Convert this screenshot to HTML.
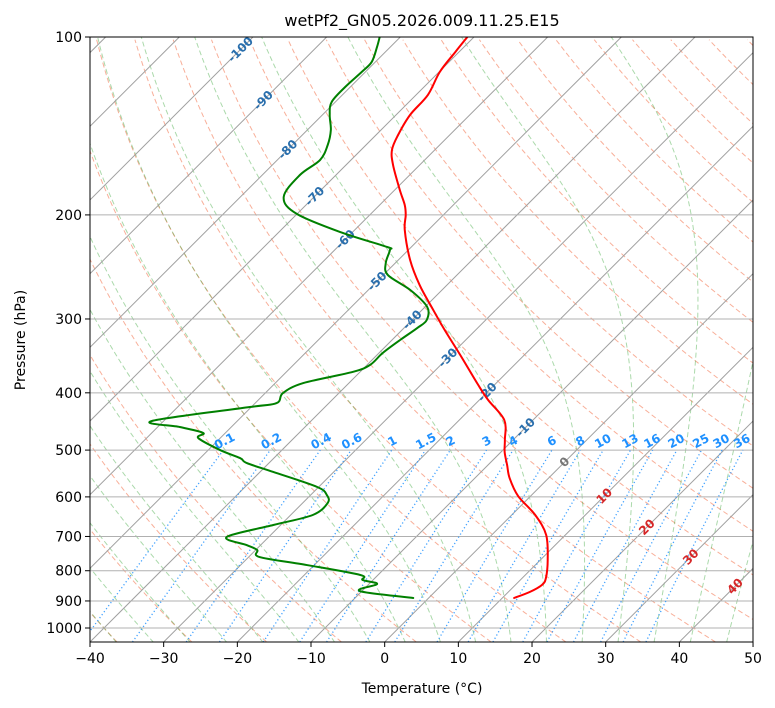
<!DOCTYPE html>
<html><head><meta charset="utf-8">
<style>
html,body{margin:0;padding:0;background:#fff;}
svg{display:block;font-family:"DejaVu Sans","Liberation Sans",sans-serif;}
</style></head>
<body>
<svg id="chart" width="775" height="708" viewBox="0 0 775 708" xmlns="http://www.w3.org/2000/svg">
<defs><clipPath id="plotclip"><rect x="90" y="37" width="663" height="605"/></clipPath></defs>
<rect x="0" y="0" width="775" height="708" fill="#fff"/>
<g id="bg" clip-path="url(#plotclip)"></g>
<g id="fg"></g>
<text x="422" y="26" text-anchor="middle" font-size="16">wetPf2_GN05.2026.009.11.25.E15</text>
<text x="422" y="693" text-anchor="middle" font-size="14">Temperature (°C)</text>
<text x="25" y="340" text-anchor="middle" font-size="14" transform="rotate(-90 25 340)">Pressure (hPa)</text>
</svg>
<script>
// ---- data ----
const tempP = [100,106.0,114.6,125.3,135.5,146.5,155.3,164.7,181.5,192.4,200.1,212.1,238.4,262.9,287.4,313.2,345.2,386.5,411.4,444.7,480.8,503.8,530.0,557.5,598.0,643.9,696.1,767.3,823.0,845.7,869.2,889.6];
const tempT = [-70.9,-70.5,-69.9,-68.4,-68.1,-67.0,-65.8,-63.6,-59.3,-56.6,-55.1,-53.2,-48.4,-43.7,-38.9,-34.2,-28.7,-22.4,-18.8,-13.9,-11.1,-9.5,-7.4,-5.3,-1.7,3.2,7.4,11.0,13.2,13.6,12.9,11.6];
const dewP = [100,104.0,110.2,114.6,121.5,128.8,135.5,143.7,152.3,161.5,171.2,186.6,199.3,214.6,226.6,229.3,241.2,252.7,268.0,286.3,301.2,310.8,325.6,342.5,358.9,368.8,385.1,400.4,416.3,422.8,446.4,457.0,467.7,477.0,499.9,515.8,525.9,544.5,577.3,595.7,614.6,643.9,669.5,701.5,723.8,737.9,758.6,782.5,813.4,829.5,842.4,865.8,889.6];
const dewT = [-82.8,-81.8,-80.5,-80.5,-80.7,-80.5,-79.0,-76.8,-75.2,-74.2,-74.9,-74.1,-70.0,-61.2,-53.3,-52.5,-51.3,-49.4,-44.3,-39.7,-38.0,-38.2,-38.9,-39.5,-39.6,-41.0,-46.2,-47.6,-47.1,-50.2,-61.6,-57.0,-53.0,-53.0,-48.4,-44.6,-43.0,-38.2,-30.2,-27.8,-26.6,-27.0,-31.0,-35.7,-31.9,-29.8,-28.5,-21.0,-12.4,-11.4,-8.9,-10.3,-2.1];
const pressureTicks = [100,200,300,400,500,600,700,800,900,1000];
const tempTicks = [-40,-30,-20,-10,0,10,20,30,40,50];
const mixRatios = [0.1,0.2,0.4,0.6,1,1.5,2,3,4,6,8,10,13,16,20,25,30,36];
const isoLabelT = [-100,-90,-80,-70,-60,-50,-40,-30,-20,-10,0,10,20,30,40];
const isoLabelP = [105,128,155,186,220,259,301,349,399,458,524,598,675,758,850];

// ---- axis functions ----
const X0=90, X1=753, Y0=37, Y1=642, PX=7.367, DEC=591;
function yP(p){return Y0+DEC*Math.log10(p/100);}
function xT(T,p){return X0+(T+40)*PX+(Y1-yP(p));}
const PBOT=Math.pow(10,2+(Y1-Y0)/DEC);
const NS='http://www.w3.org/2000/svg';
const bg=document.getElementById('bg'), fg=document.getElementById('fg');
function mk(tag,attrs,parent){const e=document.createElementNS(NS,tag);for(const k in attrs)e.setAttribute(k,attrs[k]);parent.appendChild(e);return e;}
function pathFrom(ps,ts){return ps.map((p,i)=>(i?'L':'M')+xT(ts[i],p).toFixed(2)+','+yP(p).toFixed(2)).join('');}
function smoothFrom(ps,ts){
  const pts=ps.map((p,i)=>[xT(ts[i],p),yP(p)]);
  let d='M'+pts[0][0].toFixed(2)+','+pts[0][1].toFixed(2);
  for(let i=0;i<pts.length-1;i++){
    const p0=pts[Math.max(0,i-1)],p1=pts[i],p2=pts[i+1],p3=pts[Math.min(pts.length-1,i+2)];
    const c1=[p1[0]+(p2[0]-p0[0])/6,p1[1]+(p2[1]-p0[1])/6];
    const c2=[p2[0]-(p3[0]-p1[0])/6,p2[1]-(p3[1]-p1[1])/6];
    d+='C'+c1[0].toFixed(2)+','+c1[1].toFixed(2)+' '+c2[0].toFixed(2)+','+c2[1].toFixed(2)+' '+p2[0].toFixed(2)+','+p2[1].toFixed(2);
  }
  return d;
}

// dry adiabats
for(let th=-40;th<=220;th+=10){
  const ps=[],ts=[];
  for(let p=PBOT;p>=99;p-=5){ps.push(p);ts.push((th+273.15)*Math.pow(p/1000,0.2857)-273.15);}
  const e=mk('path',{d:pathFrom(ps,ts),fill:'none',stroke:'#f47a55','stroke-opacity':'0.6','stroke-width':'1','stroke-dasharray':'5,3'},bg);
  
  
}
// moist adiabats
function es(Tc){return 6.112*Math.exp(17.67*Tc/(Tc+243.5));}
function dTdp(T,p){const Tc=T-273.15;const e=es(Tc);const rs=0.622*e/(p-e);
  return (287.04*T+2.501e6*rs)/(p*(1005.7+2.501e6*2.501e6*rs*0.622/(287.04*T*T)));}
for(let t0=-40;t0<=45;t0+=5){
  const up=[],upT=[];let T=t0+273.15;
  for(let p=1000;p>=100;p-=2){up.push(p);upT.push(T-273.15);T+=dTdp(T,p)*(-2);}
  const dn=[],dnT=[];T=t0+273.15;
  for(let p=1000;p<=PBOT+2;p+=2){dn.unshift(p);dnT.unshift(T-273.15);T+=dTdp(T,p)*2;}
  const ps=dn.concat(up.slice(1)),ts=dnT.concat(upT.slice(1));
  const e=mk('path',{d:pathFrom(ps,ts),fill:'none',stroke:'#2ca02c','stroke-opacity':'0.4','stroke-width':'1','stroke-dasharray':'5,3'},bg);
  
  
}
// isotherms
for(let T=-130;T<=50;T+=10){
  const e=mk('line',{x1:xT(T,PBOT),y1:Y1,x2:xT(T,100),y2:Y0,stroke:'#a0a0a0','stroke-width':'1'},bg);
  
  
}
// pressure grid
pressureTicks.forEach(p=>{
  const e=mk('line',{x1:X0,y1:yP(p),x2:X1,y2:yP(p),stroke:'#b0b0b0','stroke-width':'1'},bg);
  
  
});
// mixing ratio lines
function tdew(w,p){const e=w*p/(622+w);const l=Math.log(e/6.112);return 243.5*l/(17.67-l);}
mixRatios.forEach(w=>{
  const ps=[],ts=[];
  for(let p=PBOT;p>=500;p-=10){ps.push(p);ts.push(tdew(w,p));}
  ps.push(500);ts.push(tdew(w,500));
  const e=mk('path',{d:pathFrom(ps,ts),fill:'none',stroke:'#1e90ff','stroke-opacity':'0.85','stroke-width':'1.3','stroke-dasharray':'1.2,2.5'},bg);
  
  
  const lx=xT(tdew(w,482),482)-4, ly=yP(482)+4;
  const t=mk('text',{x:lx,y:ly,'text-anchor':'middle','font-size':'12','font-weight':'bold',fill:'#1e90ff',transform:'rotate(-28 '+lx+' '+ly+')'},bg);
  t.textContent=String(w);
  
  
});
// isotherm labels
isoLabelT.forEach((T,i)=>{
  const p=isoLabelP[i];const lx=xT(T,p),ly=yP(p)+4;
  const col=T<0?'#2a6fad':(T===0?'#777':'#d62728');
  const t=mk('text',{x:lx,y:ly,'text-anchor':'middle','font-size':'12','font-weight':'bold',fill:col,transform:'rotate(-45 '+lx+' '+(ly-4)+')'},bg);
  t.textContent=String(T);
  
  
});
// profiles
const tl=mk('path',{d:smoothFrom(tempP,tempT),fill:'none',stroke:'#ff0000','stroke-width':'2','stroke-linejoin':'round','stroke-linecap':'round'},bg);


const dl=mk('path',{d:smoothFrom(dewP,dewT),fill:'none',stroke:'#008000','stroke-width':'2','stroke-linejoin':'round','stroke-linecap':'round'},bg);



// frame & ticks
const fr=mk('rect',{x:X0,y:Y0,width:X1-X0,height:Y1-Y0,fill:'none',stroke:'#000','stroke-width':'1'},fg);


pressureTicks.forEach(p=>{
  const y=yP(p);
  const tk=mk('line',{x1:X0-5,y1:y,x2:X0,y2:y,stroke:'#000'},fg);
  
  
  const t=mk('text',{x:X0-8,y:y+5,'text-anchor':'end','font-size':'14'},fg);
  t.textContent=String(p);
  
  
});
tempTicks.forEach(T=>{
  const x=X0+(T+40)*PX;
  const tk=mk('line',{x1:x,y1:Y1,x2:x,y2:Y1+5,stroke:'#000'},fg);
  
  
  const t=mk('text',{x:x,y:Y1+21,'text-anchor':'middle','font-size':'14'},fg);
  t.textContent=(T<0?'\u2212'+(-T):String(T));
  
  
});
</script>
</body></html>
